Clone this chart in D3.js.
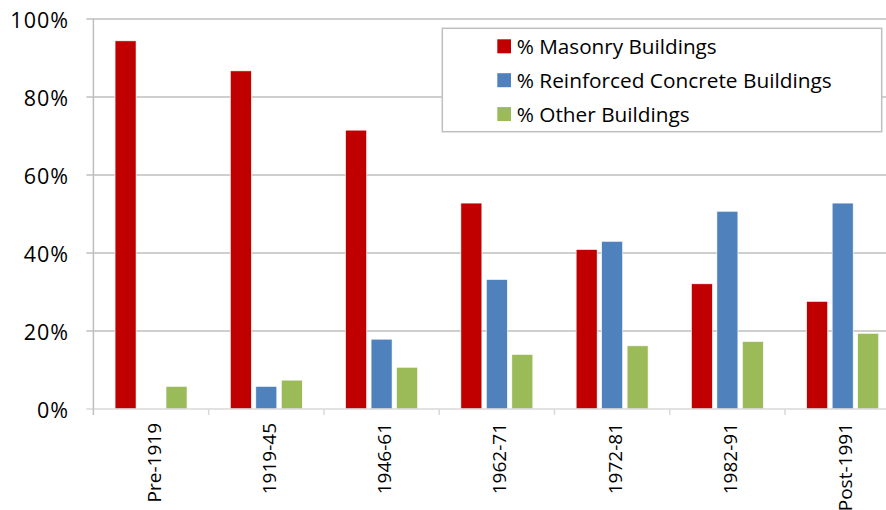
<!DOCTYPE html>
<html>
<head>
<meta charset="utf-8">
<script src="https://cdn.jsdelivr.net/npm/d3@7"></script>
<style>
    body { margin: 0; background: #fff; }
    svg { display: block; font-family: "Open Sans", sans-serif; }
</style>
</head>
<body>
<div id="chart"></div>
<script>
// Chart data
const periods = ["Pre-1919", "1919-45", "1946-61", "1962-71", "1972-81", "1982-91", "Post-1991"];
const seriesNames = ["% Masonry Buildings", "% Reinforced Concrete Buildings", "% Other Buildings"];
const masonry = [94.4, 86.7, 71.5, 52.8, 40.9, 32.1, 27.6];
const concrete = [0, 5.8, 17.9, 33.2, 43.0, 50.7, 52.8];
const other = [5.8, 7.4, 10.7, 14.0, 16.2, 17.3, 19.4];
const yTicks = [0, 20, 40, 60, 80, 100];
const colors = ["#C00000", "#4F81BD", "#9BBB59"];

// Build rows for the grouped bars
const seriesValues = [masonry, concrete, other];
const rows = periods.map((p, i) => ({
    period: p,
    values: seriesNames.map((s, j) => ({ key: s, value: seriesValues[j][i] }))
}));

const width = 886;
const height = 510;
const plotLeft = 93.4;
const plotRight = 900.3;   // plot runs past the right edge and gets clipped
const plotTop = 19;
const plotBottom = 409;

const svg = d3.select("#chart").append("svg")
    .attr("width", width)
    .attr("height", height);

// Scales
const x0 = d3.scaleBand()
    .domain(periods)
    .range([plotLeft, plotRight])
    .padding(0);

const x1 = d3.scaleBand()
    .domain(seriesNames)
    .range([0, x0.bandwidth()])
    .paddingInner(0.176)
    .paddingOuter(0.85);

const y = d3.scaleLinear()
    .domain([0, 100])
    .range([plotBottom, plotTop]);

// Gridlines
svg.append("g")
    .selectAll("line")
    .data(yTicks.filter(d => d > 0))
    .enter().append("line")
    .attr("x1", plotLeft - 7)
    .attr("x2", width)
    .attr("y1", d => y(d))
    .attr("y2", d => y(d))
    .attr("stroke", "#bfbfbf")
    .attr("stroke-width", 1.5);

// Bars
const groups = svg.append("g")
    .selectAll("g")
    .data(rows)
    .enter().append("g")
    .attr("transform", d => `translate(${x0(d.period)},0)`);

groups.selectAll("rect")
    .data(d => d.values)
    .enter().append("rect")
    .attr("x", d => x1(d.key))
    .attr("y", d => y(d.value))
    .attr("width", x1.bandwidth())
    .attr("height", d => y(0) - y(d.value))
    .attr("fill", (d, i) => colors[i])
    .attr("stroke", "#fff")
    .attr("stroke-width", 0.6);

// X axis line and ticks
svg.append("line")
    .attr("x1", plotLeft - 7)
    .attr("x2", width)
    .attr("y1", plotBottom)
    .attr("y2", plotBottom)
    .attr("stroke", "#d9d9d9")
    .attr("stroke-width", 1.5);

svg.append("g")
    .selectAll("line")
    .data(periods.slice(1))
    .enter().append("line")
    .attr("x1", d => x0(d))
    .attr("x2", d => x0(d))
    .attr("y1", plotBottom)
    .attr("y2", plotBottom + 6)
    .attr("stroke", "#d9d9d9")
    .attr("stroke-width", 1.5);

// Y axis line
svg.append("line")
    .attr("x1", plotLeft)
    .attr("x2", plotLeft)
    .attr("y1", plotTop)
    .attr("y2", plotBottom + 6)
    .attr("stroke", "#bfbfbf")
    .attr("stroke-width", 1.5);

// Y tick labels
svg.append("g")
    .selectAll("text")
    .data(yTicks)
    .enter().append("text")
    .attr("x", 69)
    .attr("y", d => y(d) + 8.5)
    .attr("text-anchor", "end")
    .style("font-size", "21.5px")
    .style("letter-spacing", "1px")
    .style("fill", "#000")
    .text(d => d + "%");

// X tick labels (rotated)
svg.append("g")
    .selectAll("text")
    .data(periods)
    .enter().append("text")
    .attr("transform", d => `translate(${x0(d) + x0.bandwidth() / 2 + 9.5},${plotBottom + 14}) rotate(-90)`)
    .attr("text-anchor", "end")
    .style("font-size", "19px")
    .style("fill", "#000")
    .text(d => d);

// Legend
const legend = svg.append("g");

legend.append("rect")
    .attr("x", 442.3)
    .attr("y", 28.3)
    .attr("width", 439.4)
    .attr("height", 103.4)
    .attr("fill", "#fff")
    .attr("stroke", "#bfbfbf")
    .attr("stroke-width", 1.5);

const legendWidths = [200, 315, 173];

const keys = legend.selectAll(".key")
    .data(seriesNames)
    .enter().append("g")
    .attr("class", "key")
    .attr("transform", (d, i) => `translate(497.3,${46.3 + i * 33.9})`);

keys.append("rect")
    .attr("x", 0)
    .attr("y", -7)
    .attr("width", 13.7)
    .attr("height", 14)
    .attr("fill", (d, i) => colors[i]);

keys.append("text")
    .attr("x", 19.4)
    .attr("y", 7.7)
    .attr("textLength", (d, i) => legendWidths[i])
    .attr("lengthAdjust", "spacingAndGlyphs")
    .style("font-size", "20.5px")
    .style("fill", "#000")
    .text(d => d);
</script>
</body>
</html>
